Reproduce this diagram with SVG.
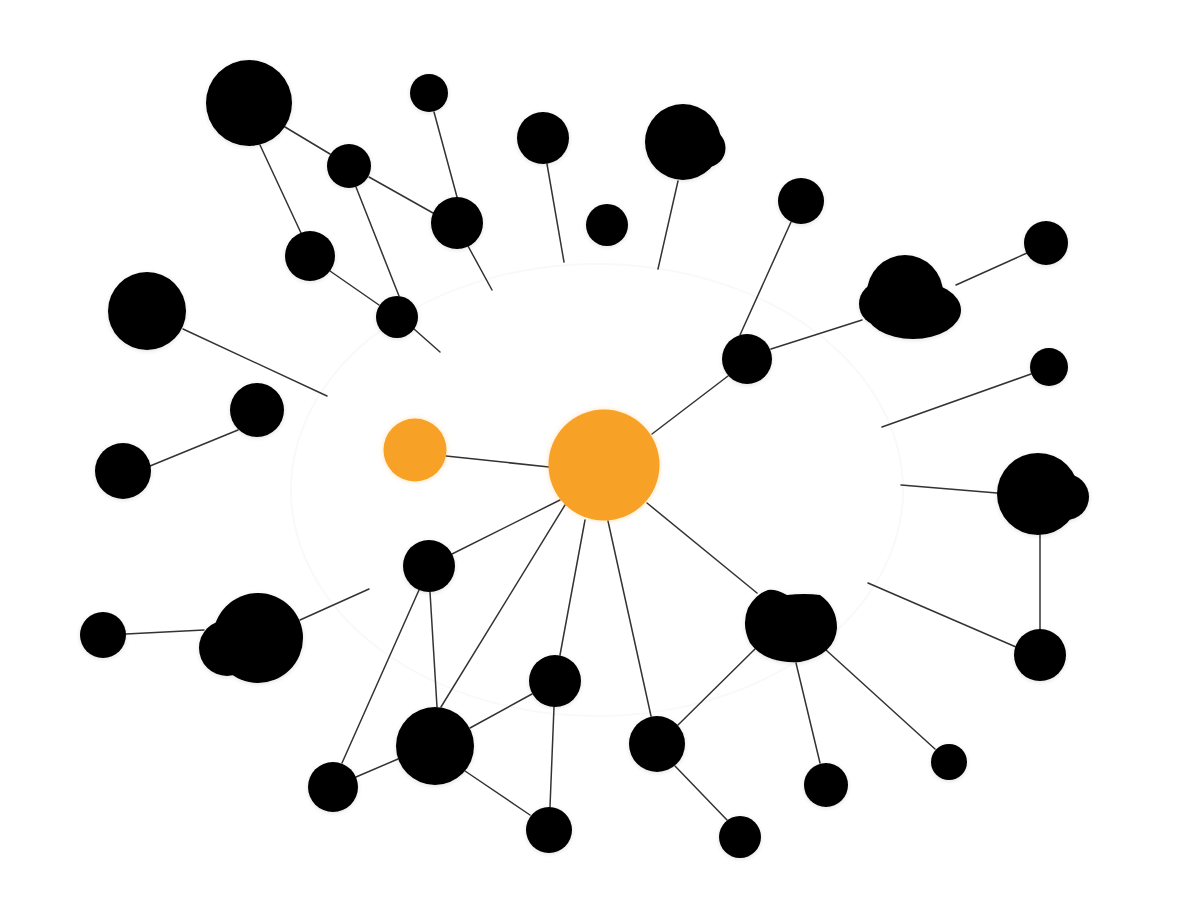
<svg xmlns="http://www.w3.org/2000/svg" width="1200" height="900" viewBox="0 0 1200 900">
  <defs>
    <filter id="sh" x="-30%" y="-30%" width="160%" height="160%">
      <feDropShadow dx="0" dy="1" stdDeviation="2" flood-color="#000" flood-opacity="0.12"/>
    </filter>
    <filter id="glow" x="-30%" y="-30%" width="160%" height="160%">
      <feDropShadow dx="0" dy="0" stdDeviation="2.5" flood-color="#f7a125" flood-opacity="0.35"/>
    </filter>
  </defs>
  <style>
    .n { fill: #000; filter: url(#sh); }
    .o { fill: #f7a125; filter: url(#glow); }
    .e line { stroke: #333; stroke-width: 1.5; stroke-linecap: round; }
  </style>
  <rect width="1200" height="900" fill="#fff"/>
  <ellipse cx="597" cy="490" rx="306" ry="226" fill="none" stroke="#f9f9f9" stroke-width="2"/>

  <g id="connectors" class="e">
    <line x1="285" y1="127" x2="330" y2="154"/>
    <line x1="260" y1="145" x2="301" y2="233"/>
    <line x1="369" y1="177" x2="433" y2="213"/>
    <line x1="356" y1="187" x2="399" y2="296"/>
    <line x1="330" y1="271" x2="379" y2="305"/>
    <line x1="414" y1="329" x2="440" y2="352"/>
    <line x1="434" y1="112" x2="457" y2="197"/>
    <line x1="468" y1="246" x2="492" y2="290"/>
    <line x1="547" y1="164" x2="564" y2="262"/>
    <line x1="678" y1="181" x2="658" y2="269"/>
    <line x1="791" y1="222" x2="740" y2="335"/>
    <line x1="771" y1="349" x2="862" y2="320"/>
    <line x1="956" y1="285" x2="1027" y2="253"/>
    <line x1="728" y1="376" x2="652" y2="434"/>
    <line x1="183" y1="329" x2="327" y2="396"/>
    <line x1="1031" y1="374" x2="882" y2="427"/>
    <line x1="238" y1="430" x2="150" y2="466"/>
    <line x1="446" y1="456" x2="549" y2="467"/>
    <line x1="997" y1="493" x2="901" y2="485"/>
    <line x1="1040" y1="535" x2="1040" y2="630"/>
    <line x1="1016" y1="647" x2="868" y2="583"/>
    <line x1="126" y1="634" x2="204" y2="630"/>
    <line x1="300" y1="620" x2="369" y2="589"/>
    <line x1="560" y1="500" x2="452" y2="554"/>
    <line x1="565" y1="505" x2="441" y2="707"/>
    <line x1="585" y1="520" x2="560" y2="655"/>
    <line x1="608" y1="521" x2="651" y2="716"/>
    <line x1="647" y1="503" x2="757" y2="593"/>
    <line x1="419" y1="590" x2="342" y2="763"/>
    <line x1="430" y1="592" x2="437" y2="707"/>
    <line x1="470" y1="728" x2="532" y2="694"/>
    <line x1="398" y1="759" x2="356" y2="777"/>
    <line x1="465" y1="771" x2="530" y2="815"/>
    <line x1="554" y1="707" x2="550" y2="807"/>
    <line x1="755" y1="649" x2="678" y2="725"/>
    <line x1="796" y1="663" x2="820" y2="763"/>
    <line x1="826" y1="650" x2="935" y2="749"/>
    <line x1="675" y1="766" x2="727" y2="820"/>
  </g>

  <g id="orange-small"><circle class="o" cx="415" cy="450" r="31.5"/></g>
  <g id="orange-hub"><circle class="o" cx="604" cy="465" r="55.5"/></g>

  <g id="n1"><circle class="n" cx="249" cy="103" r="43"/></g>
  <g id="n2"><circle class="n" cx="429" cy="93" r="19"/></g>
  <g id="n3"><circle class="n" cx="543" cy="138" r="26"/></g>
  <g id="n4" class="n"><circle cx="683" cy="142" r="38"/><circle cx="706" cy="148" r="19.5"/></g>
  <g id="n5"><circle class="n" cx="349" cy="166" r="22"/></g>
  <g id="n6"><circle class="n" cx="457" cy="223" r="26"/></g>
  <g id="n7"><circle class="n" cx="607" cy="225" r="21"/></g>
  <g id="n8"><circle class="n" cx="801" cy="201" r="23"/></g>
  <g id="n9"><circle class="n" cx="310" cy="256" r="25"/></g>
  <g id="n10"><circle class="n" cx="397" cy="317" r="21"/></g>
  <g id="n11"><circle class="n" cx="147" cy="311" r="39"/></g>
  <g id="n12"><circle class="n" cx="1046" cy="243" r="22"/></g>
  <g id="n13" class="n"><ellipse cx="913" cy="310" rx="48" ry="29"/><circle cx="905" cy="293" r="38"/><circle cx="881" cy="304" r="22"/></g>
  <g id="n14"><circle class="n" cx="747" cy="359" r="25"/></g>
  <g id="n15"><circle class="n" cx="1049" cy="367" r="19"/></g>
  <g id="n16"><circle class="n" cx="257" cy="410" r="27"/></g>
  <g id="n17"><circle class="n" cx="123" cy="471" r="28"/></g>
  <g id="n18" class="n"><circle cx="1038" cy="494" r="41"/><circle cx="1066" cy="497" r="23"/></g>
  <g id="n19"><circle class="n" cx="429" cy="566" r="26"/></g>
  <g id="n20"><circle class="n" cx="103" cy="635" r="23"/></g>
  <g id="n21" class="n"><circle cx="258" cy="638" r="45"/><circle cx="227" cy="648" r="28"/></g>
  <g id="n22"><path class="n" d="M 768 590 Q 776 589 787 595 Q 805 593 820 595 Q 837 607 837 628 Q 835 655 800 662 Q 765 664 750 643 Q 741 625 748 608 Q 756 594 768 590 Z"/></g>
  <g id="n23"><circle class="n" cx="555" cy="681" r="26"/></g>
  <g id="n24"><circle class="n" cx="435" cy="746" r="39"/></g>
  <g id="n25"><circle class="n" cx="657" cy="744" r="28"/></g>
  <g id="n26"><circle class="n" cx="826" cy="785" r="22"/></g>
  <g id="n27"><circle class="n" cx="949" cy="762" r="18"/></g>
  <g id="n28"><circle class="n" cx="1040" cy="655" r="26"/></g>
  <g id="n29"><circle class="n" cx="333" cy="787" r="25"/></g>
  <g id="n30"><circle class="n" cx="549" cy="830" r="23"/></g>
  <g id="n31"><circle class="n" cx="740" cy="837" r="21"/></g>
</svg>
